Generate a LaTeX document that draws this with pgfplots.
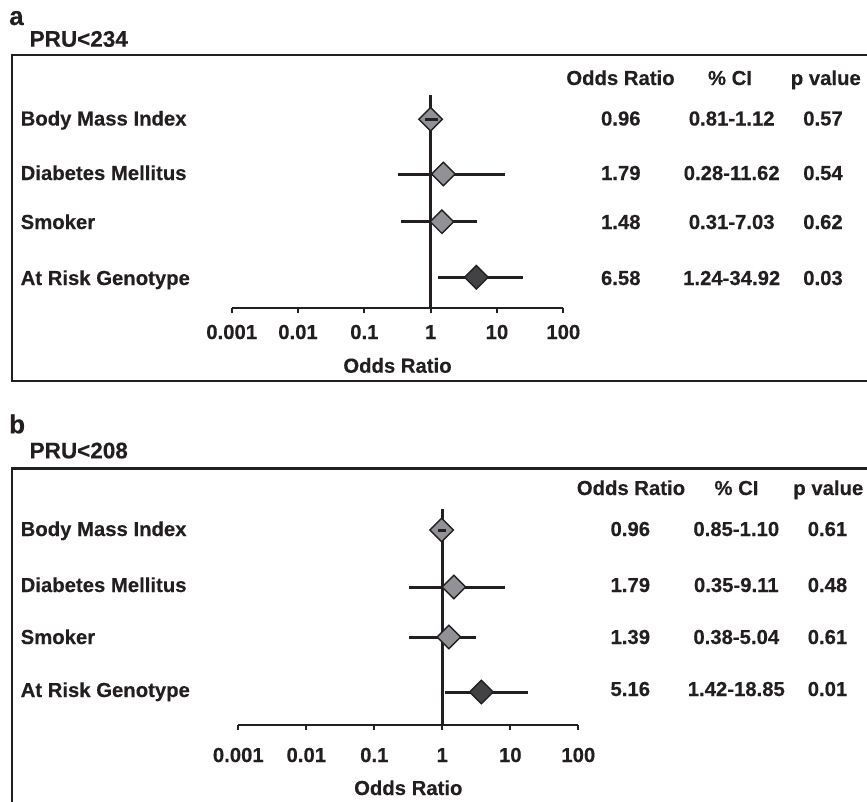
\documentclass[border=0pt]{standalone}
\usepackage{fontspec}
\setmainfont{Liberation Sans}[BoldFeatures={FakeBold=0.35}]
\usepackage{pgfplots}
\pgfplotsset{compat=1.18}
\definecolor{ink}{RGB}{35,31,32}
\definecolor{lg}{RGB}{146,146,150}
\definecolor{dg}{RGB}{66,66,68}
\newcommand\tf{\fontsize{20.3}{24}\selectfont\bfseries}
\newcommand\pf{\fontsize{22.5}{26}\selectfont\bfseries}
\pgfplotsset{
  ci/.style={draw=ink, line width=3pt, no marks},
  dia/.style={only marks, mark=square*, mark size=8.3pt,
    mark options={rotate=45, draw=ink, line width=1.4pt, fill=#1}},
}
\begin{document}
\begin{tikzpicture}[x=1pt,y=1pt]
\useasboundingbox (0,0) rectangle (867,-801);
\draw[ink, line width=2.4pt] (870,-55) -- (12,-55) -- (12,-381) -- (870,-381);
\draw[ink, line width=2.4pt] (870,-468.3) -- (12,-468.3) -- (12,-806);
\tikzset{lab/.style={anchor=base west, inner sep=0pt, text=ink, font=\tf},
         col/.style={anchor=base, inner sep=0pt, text=ink, font=\tf}}
% panel a texts
\node[anchor=base west, inner sep=0pt, text=ink, font=\fontsize{26}{30}\selectfont\bfseries] at (9,-25) {a};
\node[anchor=base west, inner sep=0pt, text=ink, font=\pf] at (29.5,-46.7) {PRU<234};
\node[col] at (620.5,-85) {Odds Ratio};
\node[col] at (730,-85) {\% CI};
\node[col] at (825.8,-85) {p value};
\node[lab] at (20.5,-125.5) {Body Mass Index};
\node[lab] at (20.5,-180) {Diabetes Mellitus};
\node[lab] at (20.5,-229) {Smoker};
\node[lab] at (20.5,-285) {At Risk Genotype};
\node[col] at (620.8,-125.5) {0.96};  \node[col] at (731.7,-125.5) {0.81-1.12};  \node[col] at (823,-125.5) {0.57};
\node[col] at (620.8,-180) {1.79};    \node[col] at (731.7,-180) {0.28-11.62};  \node[col] at (823,-180) {0.54};
\node[col] at (620.8,-229) {1.48};    \node[col] at (731.7,-229) {0.31-7.03};   \node[col] at (823,-229) {0.62};
\node[col] at (620.8,-285) {6.58};    \node[col] at (731.7,-285) {1.24-34.92};  \node[col] at (823,-285) {0.03};
% panel b texts
\node[anchor=base west, inner sep=0pt, text=ink, font=\fontsize{26}{30}\selectfont\bfseries] at (9,-433.3) {b};
\node[anchor=base west, inner sep=0pt, text=ink, font=\pf] at (29.5,-458.3) {PRU<208};
\node[col] at (631,-495) {Odds Ratio};
\node[col] at (736.5,-495) {\% CI};
\node[col] at (828.3,-495) {p value};
\node[lab] at (20.5,-536) {Body Mass Index};
\node[lab] at (20.5,-592) {Diabetes Mellitus};
\node[lab] at (20.5,-644) {Smoker};
\node[lab] at (20.5,-697) {At Risk Genotype};
\node[col] at (630.3,-536) {0.96};  \node[col] at (736.3,-536) {0.85-1.10};  \node[col] at (827.5,-536) {0.61};
\node[col] at (630.3,-592) {1.79};  \node[col] at (736.3,-592) {0.35-9.11};  \node[col] at (827.5,-592) {0.48};
\node[col] at (630.3,-644) {1.39};  \node[col] at (736.3,-644) {0.38-5.04};  \node[col] at (827.5,-644) {0.61};
\node[col] at (630.3,-696) {5.16};  \node[col] at (736.3,-696) {1.42-18.85}; \node[col] at (827.5,-696) {0.01};

% panel a axis
\begin{axis}[at={(231.7pt,-308pt)}, anchor=south west,
  scale only axis, xmode=log, xmin=0.001, xmax=100,
  axis x line*=bottom, axis y line=none,
  xtick={0.001,0.01,0.1,1,10,100}, xticklabels={0.001,0.01,0.1,1,10,100},
  xminorticks=false, tick align=outside, major tick length=5pt,
  every tick/.style={ink, line width=2.2pt},
  axis line style={ink, line width=2.6pt},
  xticklabel style={font=\tf, text=ink, anchor=base, yshift=-26pt},
  xlabel={Odds Ratio},
  xlabel style={font=\tf, text=ink, anchor=base, at={(axis description cs:0.5,0)}, yshift=-64.7pt},
  clip=false, clip marker paths=true,
  width=331.6pt, height=213pt, ymin=-308, ymax=-95]
\addplot[ci] coordinates {(1,-95) (1,-308)};
\addplot[ci] coordinates {(0.32,-174) (13.2,-174)};
\addplot[ci] coordinates {(0.353,-221.7) (5.06,-221.7)};
\addplot[ci] coordinates {(1.29,-277.3) (25.0,-277.3)};
\addplot[dia=lg] coordinates {(1.0,-119.3) (1.55,-174) (1.48,-221.7)};
\addplot[dia=dg] coordinates {(4.89,-277.3)};
\addplot[ci] coordinates {(0.82,-119.3) (1.27,-119.3)};
\end{axis}

% panel b axis
\begin{axis}[at={(238.3pt,-725pt)}, anchor=south west,
  scale only axis, xmode=log, xmin=0.001, xmax=100,
  axis x line*=bottom, axis y line=none,
  xtick={0.001,0.01,0.1,1,10,100}, xticklabels={0.001,0.01,0.1,1,10,100},
  xminorticks=false, tick align=outside, major tick length=5pt,
  every tick/.style={ink, line width=2.2pt},
  axis line style={ink, line width=2.6pt},
  xticklabel style={font=\tf, text=ink, anchor=base, yshift=-32pt},
  xlabel={Odds Ratio},
  xlabel style={font=\tf, text=ink, anchor=base, at={(axis description cs:0.5,0)}, yshift=-70pt},
  clip=false, clip marker paths=true,
  width=340pt, height=216pt, ymin=-725, ymax=-509]
\addplot[ci] coordinates {(1,-509) (1,-725)};
\addplot[ci] coordinates {(0.323,-587) (8.33,-587)};
\addplot[ci] coordinates {(0.323,-637) (3.16,-637)};
\addplot[ci] coordinates {(1.08,-692) (18.4,-692)};
\addplot[dia=lg] coordinates {(0.98,-530) (1.48,-587) (1.25,-637)};
\addplot[dia=dg] coordinates {(3.75,-692)};
\addplot[ci] coordinates {(0.86,-530) (1.12,-530)};
\end{axis}
\end{tikzpicture}
\end{document}
